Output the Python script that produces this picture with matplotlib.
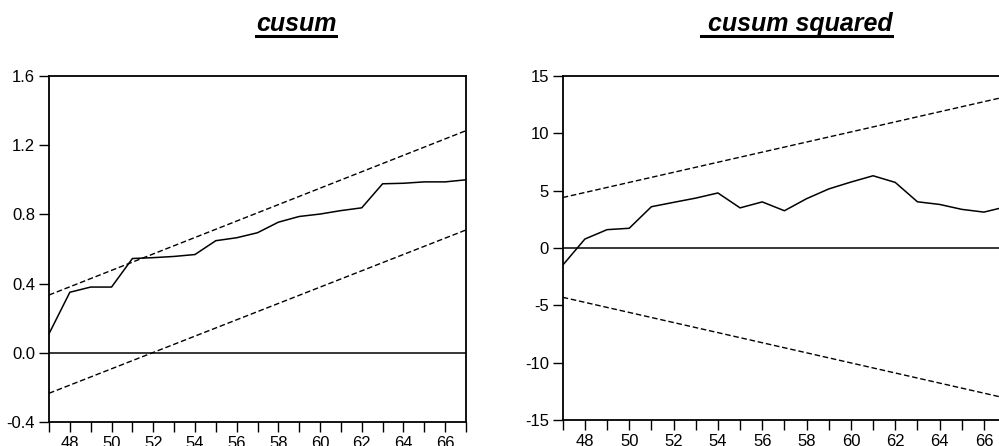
import matplotlib
matplotlib.use('Agg')
import matplotlib.pyplot as plt
from matplotlib.lines import Line2D
from matplotlib.ticker import MultipleLocator, FormatStrFormatter

plt.rcParams['font.family'] = ['Liberation Sans', 'DejaVu Sans']
plt.rcParams['axes.unicode_minus'] = False

# observation index (years)
years = list(range(47, 68))

# left panel ("cusum") - statistic and 5% bands (straight lines, endpoints)
cusum_left = [0.11, 0.35, 0.38, 0.38, 0.545, 0.55, 0.557, 0.568, 0.648, 0.665,
              0.694, 0.755, 0.788, 0.802, 0.822, 0.838, 0.977, 0.980, 0.988,
              0.988, 1.0]
band_years = [47, 67]
left_upper = [0.334, 1.284]
left_lower = [-0.234, 0.710]

# right panel ("cusum squared") - statistic and 5% bands
cusum_right = [-1.5, 0.78, 1.6, 1.72, 3.6, 3.98, 4.35, 4.8, 3.5, 4.02, 3.25,
               4.3, 5.15, 5.75, 6.3, 5.72, 4.03, 3.8, 3.37, 3.13, 3.6]
right_upper = [4.4, 13.2]
right_lower = [-4.3, -13.1]

W, H = 999, 446
fig = plt.figure(figsize=(W / 100, H / 100), dpi=100)

ax1 = fig.add_axes([49 / W, (H - 422) / H, 417 / W, 346 / H])
ax2 = fig.add_axes([562.7 / W, (H - 420) / H, 443.4 / W, 344 / H])


def style_axis(ax, ylim, ystep, fmt):
    ax.set_xlim(47, 67)
    ax.set_ylim(*ylim)
    ax.xaxis.set_major_locator(MultipleLocator(2))
    ax.xaxis.set_minor_locator(MultipleLocator(1))
    ax.yaxis.set_major_locator(MultipleLocator(ystep))
    ax.yaxis.set_major_formatter(FormatStrFormatter(fmt))
    ax.tick_params(axis='both', which='both', direction='out', length=7,
                   width=1.0, labelsize=12, colors='black', pad=3)
    ax.tick_params(axis='x', which='both', top=False)
    ax.tick_params(axis='y', which='both', right=False)
    for s in ax.spines.values():
        s.set_linewidth(1.3)
        s.set_color('black')
    ax.axhline(0, color='black', lw=1.1, zorder=2)


style_axis(ax1, (-0.4, 1.6), 0.4, '%.1f')
style_axis(ax2, (-15, 15), 5, '%d')

ax1.plot(years, cusum_left, color='black', lw=1.1, zorder=3)
ax1.plot(band_years, left_upper, color='black', lw=1.0, dashes=(4, 2))
ax1.plot(band_years, left_lower, color='black', lw=1.0, dashes=(4, 2))

ax2.plot(years, cusum_right, color='black', lw=1.1, zorder=3)
ax2.plot(band_years, right_upper, color='black', lw=1.0, dashes=(4, 2))
ax2.plot(band_years, right_lower, color='black', lw=1.0, dashes=(4, 2))

# underlined bold italic titles
titles = [('cusum', 296), (' cusum squared', 796.5)]
fig.canvas.draw()
renderer = fig.canvas.get_renderer()
for label, cx in titles:
    t = fig.text(cx / W, (H - 31) / H, label, ha='center', va='baseline',
                 fontsize=18, fontweight='bold', fontstyle='italic')
    bb = t.get_window_extent(renderer=renderer)
    uy = (H - 35.5) / H
    fig.add_artist(Line2D([bb.x0 / W, bb.x1 / W], [uy, uy], color='black',
                          lw=2.2, transform=fig.transFigure))

fig.savefig('out.png', dpi=100)
